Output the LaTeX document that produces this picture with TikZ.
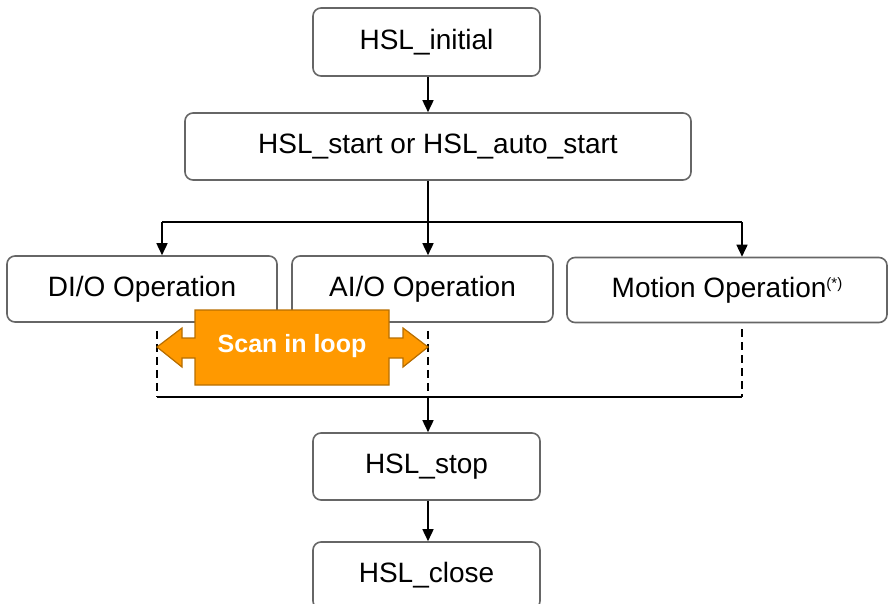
\documentclass[tikz,border=0pt]{standalone}
\usepackage{fontspec}
\setmainfont{Liberation Sans}
\usetikzlibrary{arrows.meta}
\definecolor{scanfill}{HTML}{FF9900}
\definecolor{scanedge}{HTML}{B86E00}

\begin{document}
\begin{tikzpicture}[x=1pt,y=-1pt,
box/.style={draw=black!60,line width=1.6pt,rounded corners=8pt,fill=white,inner sep=0pt,font=\fontsize{28}{32}\selectfont},
arr/.style={-{Triangle[length=12pt,width=11pt]},line width=1.6pt},
ln/.style={line width=1.6pt},
dln/.style={line width=1.6pt,dash pattern=on 8pt off 5pt}]
\useasboundingbox (0,0) rectangle (888,604);
\node[box,minimum width=227pt,minimum height=68pt] (init) at (426.5,42) {HSL\_initial};
\node[box,minimum width=506pt,minimum height=67pt] (start) at (438,146.5) {HSL\_start or HSL\_auto\_start};
\node[box,minimum width=270pt,minimum height=66pt] (dio) at (142,289) {DI/O Operation};
\node[box,minimum width=261pt,minimum height=66pt] (aio) at (422.5,289) {AI/O Operation};
\node[box,minimum width=320pt,minimum height=65pt] (mot) at (727,290) {Motion Operation\raisebox{9pt}{\fontsize{15}{15}\selectfont(*)}};
\node[box,minimum width=227pt,minimum height=67pt] (stop) at (426.5,466.5) {HSL\_stop};
\node[box,minimum width=227pt,minimum height=67pt] (close) at (426.5,575.5) {HSL\_close};
\coordinate (split) at (428,222);
\coordinate (bl) at (162,222);
\coordinate (br) at (742,222);
\coordinate (join) at (428,397);
\coordinate (jl) at (157,397);
\coordinate (jr) at (742,397);
\draw[arr] (split |- init.south) -- (split |- start.north);
\draw[ln] (split |- start.south) -- (split);
\draw[ln] (bl) -- (br);
\draw[arr] (bl) -- (bl |- dio.north);
\draw[arr] (split) -- (split |- aio.north);
\draw[arr] (br) -- (br |- mot.north);
\draw[dln,shorten <=8pt] (jl |- dio.south) -- (jl);
\draw[dln,shorten <=8pt] (join |- aio.south) -- (join);
\draw[dln,shorten <=6pt] (jr |- mot.south) -- (jr);
\draw[ln] (jl) -- (jr);
\draw[arr] (join) -- (join |- stop.north);
\draw[arr] (split |- stop.south) -- (split |- close.north);
\draw[fill=scanfill,draw=scanedge,line width=1.2pt,line join=miter]
  (157,347) -- (182,328) -- (182,338) -- (195,338) -- (195,310) -- (389,310) -- (389,338)
  -- (403,338) -- (403,328) -- (428,347) -- (403,367) -- (403,358) -- (389,358) -- (389,385)
  -- (195,385) -- (195,358) -- (182,358) -- (182,367) -- cycle;
\node[text=white,font=\bfseries\fontsize{25}{28}\selectfont] (scan) at (292,346) {Scan in loop};
\end{tikzpicture}
\end{document}
